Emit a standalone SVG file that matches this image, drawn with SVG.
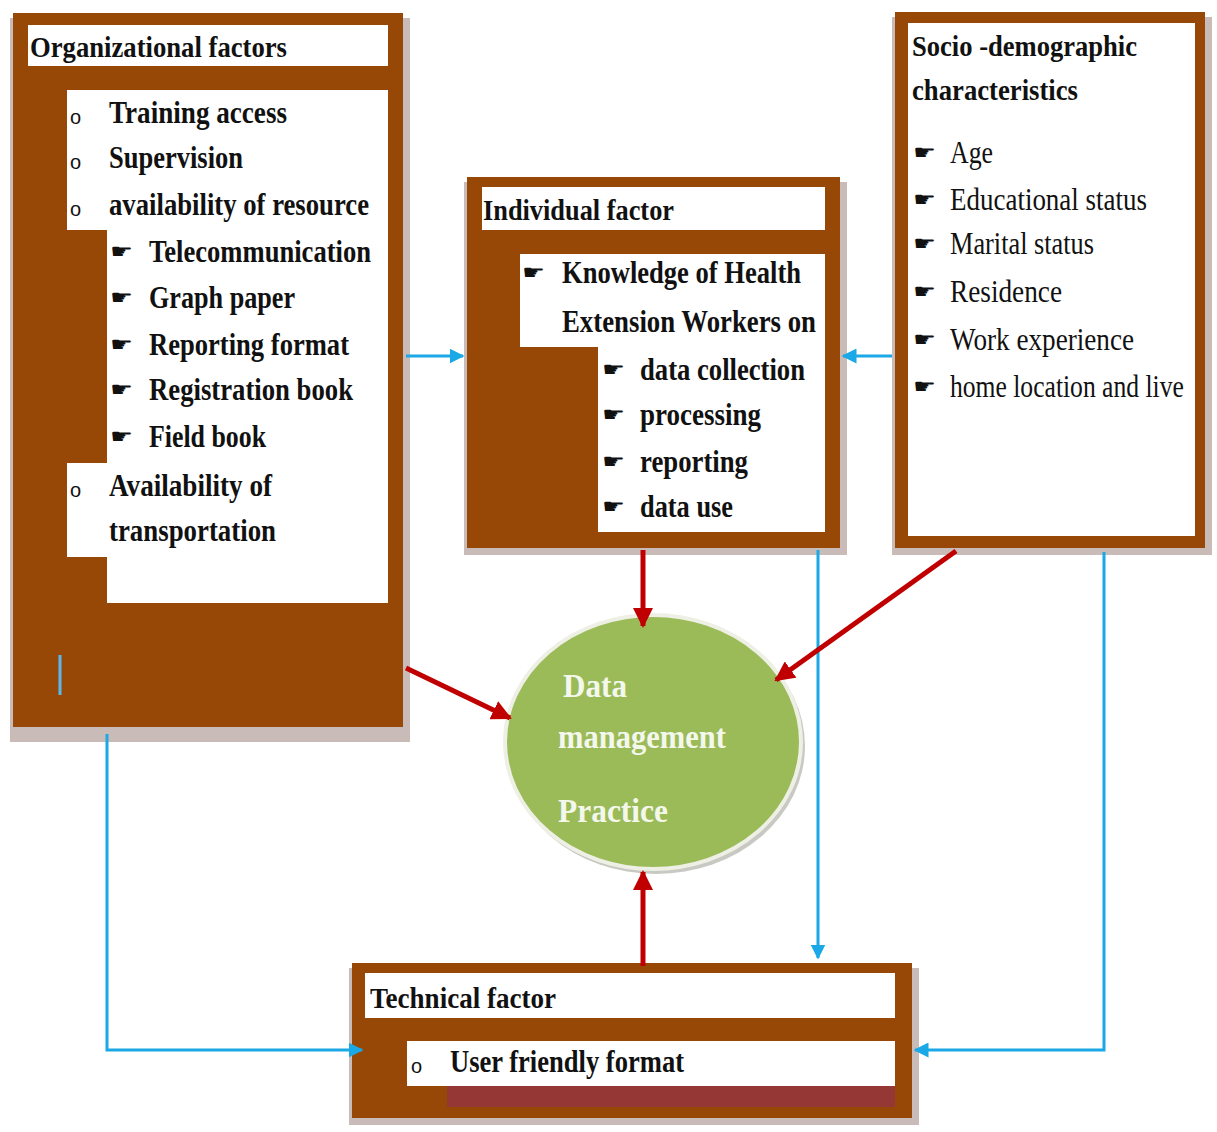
<svg xmlns="http://www.w3.org/2000/svg" width="1217" height="1132" viewBox="0 0 1217 1132">
<defs>
<style>
.shadow{fill:#c9bcb8;}
.brown{fill:#974706;}
.wh{fill:#ffffff;}
.t{font-family:"Liberation Serif","Times New Roman",serif;font-size:32px;fill:#111;}
.h{font-size:30px;}
.b{font-weight:bold;}
.ob{font-family:"Liberation Sans",Arial,sans-serif;font-size:20px;fill:#111;}
.hand{font-family:"DejaVu Sans",sans-serif;font-size:20px;fill:#111;}
.blue{stroke:#1aa8e6;stroke-width:3;fill:none;}
.red{stroke:#c00000;stroke-width:5;fill:none;}
.ct{font-family:"Liberation Serif","Times New Roman",serif;font-size:34px;font-weight:bold;fill:#f4f7ec;}
</style>
<marker id="ab" viewBox="0 0 10 10" refX="9" refY="5" markerWidth="5" markerHeight="5" orient="auto" markerUnits="strokeWidth">
<path d="M0,0 L10,5 L0,10 Z" fill="#1aa8e6"/>
</marker>
<marker id="ar" viewBox="0 0 10 10" refX="9" refY="5" markerWidth="4" markerHeight="4" orient="auto" markerUnits="strokeWidth">
<path d="M0,0 L10,5 L0,10 Z" fill="#c00000"/>
</marker>
</defs>
<rect width="1217" height="1132" fill="#ffffff"/>

<g id="organizational">
<rect class="shadow" x="10" y="18" width="400" height="724"/>
<rect class="brown" x="13" y="13" width="390" height="714"/>
<rect class="wh" x="28" y="25" width="360" height="41"/>
<path class="wh" d="M67,90 H388 V603 H107 V557 H67 V463 H107 V230 H67 Z"/>
<text class="t h b" x="30" y="57" textLength="257" lengthAdjust="spacingAndGlyphs">Organizational factors</text>
<text class="ob" x="70" y="124">o</text>
<text class="t b" x="109" y="123" textLength="178" lengthAdjust="spacingAndGlyphs">Training access</text>
<text class="ob" x="70" y="169">o</text>
<text class="t b" x="109" y="168" textLength="134" lengthAdjust="spacingAndGlyphs">Supervision</text>
<text class="ob" x="70" y="216">o</text>
<text class="t b" x="109" y="215" textLength="260" lengthAdjust="spacingAndGlyphs">availability of resource</text>
<text class="hand" x="110" y="258" textLength="23" lengthAdjust="spacingAndGlyphs">☛</text>
<text class="t b" x="149" y="262" textLength="222" lengthAdjust="spacingAndGlyphs">Telecommunication</text>
<text class="hand" x="110" y="304" textLength="23" lengthAdjust="spacingAndGlyphs">☛</text>
<text class="t b" x="149" y="308" textLength="146" lengthAdjust="spacingAndGlyphs">Graph paper</text>
<text class="hand" x="110" y="351" textLength="23" lengthAdjust="spacingAndGlyphs">☛</text>
<text class="t b" x="149" y="355" textLength="200" lengthAdjust="spacingAndGlyphs">Reporting format</text>
<text class="hand" x="110" y="396" textLength="23" lengthAdjust="spacingAndGlyphs">☛</text>
<text class="t b" x="149" y="400" textLength="204" lengthAdjust="spacingAndGlyphs">Registration book</text>
<text class="hand" x="110" y="443" textLength="23" lengthAdjust="spacingAndGlyphs">☛</text>
<text class="t b" x="149" y="447" textLength="117" lengthAdjust="spacingAndGlyphs">Field book</text>
<text class="ob" x="70" y="497">o</text>
<text class="t b" x="109" y="496" textLength="163" lengthAdjust="spacingAndGlyphs">Availability of</text>
<text class="t b" x="109" y="541" textLength="167" lengthAdjust="spacingAndGlyphs">transportation</text>
<line x1="60" y1="655" x2="60" y2="695" stroke="#5ab8ee" stroke-width="3"/>
</g>

<g id="individual">
<rect class="shadow" x="464" y="182" width="383" height="373"/>
<rect class="brown" x="467" y="177" width="373" height="371"/>
<rect class="wh" x="482" y="187" width="343" height="43"/>
<path class="wh" d="M520,254 H825 V532 H598 V347 H520 Z"/>
<text class="t h b" x="483" y="220" textLength="191" lengthAdjust="spacingAndGlyphs">Individual factor</text>
<text class="hand" x="522" y="279" textLength="23" lengthAdjust="spacingAndGlyphs">☛</text>
<text class="t b" x="562" y="283" textLength="239" lengthAdjust="spacingAndGlyphs">Knowledge of Health</text>
<text class="t b" x="562" y="332" textLength="254" lengthAdjust="spacingAndGlyphs">Extension Workers on</text>
<text class="hand" x="602" y="376" textLength="23" lengthAdjust="spacingAndGlyphs">☛</text>
<text class="t b" x="640" y="380" textLength="165" lengthAdjust="spacingAndGlyphs">data collection</text>
<text class="hand" x="602" y="421" textLength="23" lengthAdjust="spacingAndGlyphs">☛</text>
<text class="t b" x="640" y="425" textLength="121" lengthAdjust="spacingAndGlyphs">processing</text>
<text class="hand" x="602" y="468" textLength="23" lengthAdjust="spacingAndGlyphs">☛</text>
<text class="t b" x="640" y="472" textLength="108" lengthAdjust="spacingAndGlyphs">reporting</text>
<text class="hand" x="602" y="513" textLength="23" lengthAdjust="spacingAndGlyphs">☛</text>
<text class="t b" x="640" y="517" textLength="93" lengthAdjust="spacingAndGlyphs">data use</text>
</g>

<g id="socio">
<rect class="shadow" x="892" y="17" width="320" height="538"/>
<rect class="brown" x="895" y="12" width="310" height="536"/>
<rect class="wh" x="908" y="23" width="287" height="513"/>
<text class="t h b" x="912" y="56" textLength="225" lengthAdjust="spacingAndGlyphs">Socio -demographic</text>
<text class="t h b" x="912" y="100" textLength="166" lengthAdjust="spacingAndGlyphs">characteristics</text>
<text class="hand" x="913" y="159" textLength="23" lengthAdjust="spacingAndGlyphs">☛</text>
<text class="t" x="950" y="163" textLength="43" lengthAdjust="spacingAndGlyphs">Age</text>
<text class="hand" x="913" y="206" textLength="23" lengthAdjust="spacingAndGlyphs">☛</text>
<text class="t" x="950" y="210" textLength="197" lengthAdjust="spacingAndGlyphs">Educational status</text>
<text class="hand" x="913" y="250" textLength="23" lengthAdjust="spacingAndGlyphs">☛</text>
<text class="t" x="950" y="254" textLength="144" lengthAdjust="spacingAndGlyphs">Marital status</text>
<text class="hand" x="913" y="298" textLength="23" lengthAdjust="spacingAndGlyphs">☛</text>
<text class="t" x="950" y="302" textLength="112" lengthAdjust="spacingAndGlyphs">Residence</text>
<text class="hand" x="913" y="346" textLength="23" lengthAdjust="spacingAndGlyphs">☛</text>
<text class="t" x="950" y="350" textLength="184" lengthAdjust="spacingAndGlyphs">Work experience</text>
<text class="hand" x="913" y="393" textLength="23" lengthAdjust="spacingAndGlyphs">☛</text>
<text class="t" transform="translate(950,397) scale(0.8,1)" x="0" y="0">home location and live</text>
</g>

<g id="technical">
<rect class="shadow" x="349" y="968" width="570" height="157"/>
<rect class="brown" x="352" y="963" width="560" height="155"/>
<rect class="wh" x="365" y="973" width="530" height="45"/>
<rect class="wh" x="407" y="1041" width="488" height="45"/>
<rect x="447" y="1086" width="448" height="21" fill="#953735"/>
<text class="t h b" x="370" y="1008" textLength="186" lengthAdjust="spacingAndGlyphs">Technical factor</text>
<text class="ob" x="411" y="1073">o</text>
<text class="t b" x="450" y="1072" textLength="234" lengthAdjust="spacingAndGlyphs">User friendly format</text>
</g>

<g id="data-management">
<ellipse cx="656" cy="746" rx="149" ry="128" fill="#c9c9c4"/>
<ellipse cx="653" cy="742" rx="148" ry="127" fill="#9bbb59" stroke="#eef0e6" stroke-width="4"/>
<text class="ct" x="563" y="697" textLength="64" lengthAdjust="spacingAndGlyphs">Data</text>
<text class="ct" x="558" y="748" textLength="168" lengthAdjust="spacingAndGlyphs">management</text>
<text class="ct" x="558" y="822" textLength="110" lengthAdjust="spacingAndGlyphs">Practice</text>
</g>

<g id="connectors">
<line class="blue" x1="406" y1="356" x2="463" y2="356" marker-end="url(#ab)"/>
<line class="blue" x1="892" y1="356" x2="843" y2="356" marker-end="url(#ab)"/>
<polyline class="blue" points="107,734 107,1050 362,1050" marker-end="url(#ab)"/>
<line class="blue" x1="818" y1="550" x2="818" y2="958" marker-end="url(#ab)"/>
<polyline class="blue" points="1104,552 1104,1050 915,1050" marker-end="url(#ab)"/>
<line class="red" x1="643" y1="550" x2="643" y2="626" marker-end="url(#ar)"/>
<line class="red" x1="406" y1="668" x2="510" y2="718" marker-end="url(#ar)"/>
<line class="red" x1="956" y1="551" x2="776" y2="680" marker-end="url(#ar)"/>
<line class="red" x1="643" y1="966" x2="643" y2="872" marker-end="url(#ar)"/>
</g>
</svg>
